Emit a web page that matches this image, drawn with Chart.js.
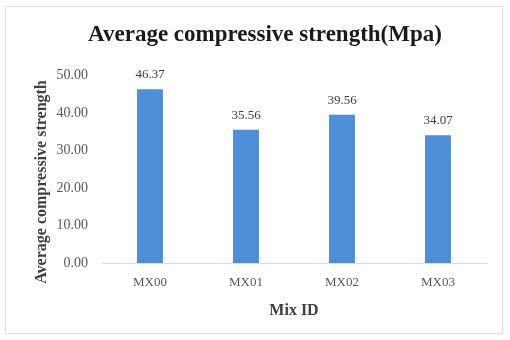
<!DOCTYPE html>
<html>
<head>
<meta charset="utf-8">
<script src="https://cdn.jsdelivr.net/npm/chart.js@4/dist/chart.umd.min.js"></script>
<style>
  html, body { margin: 0; padding: 0; background: #fff; }
  #wrap { width: 510px; height: 340px; position: relative; }
</style>
</head>
<body>
<div id="wrap"><canvas id="c" width="510" height="340"></canvas></div>
<script>
const mixIds = ['MX00', 'MX01', 'MX02', 'MX03'];
const strength = [46.37, 35.56, 39.56, 34.07];
const yTicks = [0, 10, 20, 30, 40, 50];
const yTitle = 'Average compressive strength';

const serif = '"Liberation Serif", "DejaVu Serif", serif';

// Outer frame around the whole chart
const framePlugin = {
  id: 'frame',
  beforeDraw(chart) {
    const ctx = chart.ctx;
    ctx.save();
    ctx.fillStyle = '#ffffff';
    ctx.fillRect(0, 0, chart.width, chart.height);
    ctx.strokeStyle = '#e0e0e0';
    ctx.lineWidth = 1;
    ctx.strokeRect(5.5, 6.5, 497, 327);
    ctx.restore();
  }
};

// Value labels above each bar, plus the rotated value-axis title
const valueLabels = {
  id: 'valueLabels',
  afterDatasetsDraw(chart) {
    const ctx = chart.ctx;
    const meta = chart.getDatasetMeta(0);
    ctx.save();
    ctx.font = '13px ' + serif;
    ctx.fillStyle = '#404040';
    ctx.textAlign = 'center';
    ctx.textBaseline = 'bottom';
    meta.data.forEach((bar, i) => {
      ctx.fillText(strength[i].toFixed(2), bar.x, bar.y - 8);
    });
    ctx.restore();

    ctx.save();
    ctx.translate(42, 182);
    ctx.rotate(-Math.PI / 2);
    ctx.font = 'bold 16px ' + serif;
    ctx.fillStyle = '#404040';
    ctx.textAlign = 'center';
    ctx.textBaseline = 'middle';
    ctx.fillText(yTitle, 0, 0);
    ctx.restore();
  }
};

new Chart(document.getElementById('c'), {
  type: 'bar',
  data: {
    labels: mixIds,
    datasets: [{
      data: strength,
      backgroundColor: '#4d8fd8',
      borderWidth: 0,
      categoryPercentage: 1,
      barPercentage: 0.27
    }]
  },
  options: {
    responsive: false,
    animation: false,
    devicePixelRatio: 1,
    layout: { padding: { top: 21, left: 44, right: 24, bottom: 20 } },
    plugins: {
      legend: { display: false },
      tooltip: { enabled: false },
      title: {
        display: true,
        text: 'Average compressive strength(Mpa)',
        color: '#1a1a1a',
        font: { family: serif, size: 23, weight: 'bold' },
        padding: { top: 0, bottom: 27 }
      }
    },
    scales: {
      x: {
        afterFit(axis) { axis.height = 57; },
        grid: { display: false, drawTicks: false },
        border: { display: true, color: '#d9d9d9' },
        ticks: { color: '#595959', font: { family: serif, size: 13 }, padding: 12 },
        title: {
          display: true,
          text: 'Mix ID',
          color: '#404040',
          font: { family: serif, size: 16, weight: 'bold' },
          padding: { top: 4, bottom: 0 }
        }
      },
      y: {
        min: 0,
        max: 50,
        afterBuildTicks(axis) { axis.ticks = yTicks.map(v => ({ value: v })); },
        afterFit(axis) { axis.width = 58; },
        grid: { display: false, drawTicks: false },
        border: { display: false },
        ticks: {
          color: '#595959',
          font: { family: serif, size: 14 },
          padding: 14,
          callback: v => Number(v).toFixed(2)
        }
      }
    }
  },
  plugins: [framePlugin, valueLabels]
});
</script>
</body>
</html>
